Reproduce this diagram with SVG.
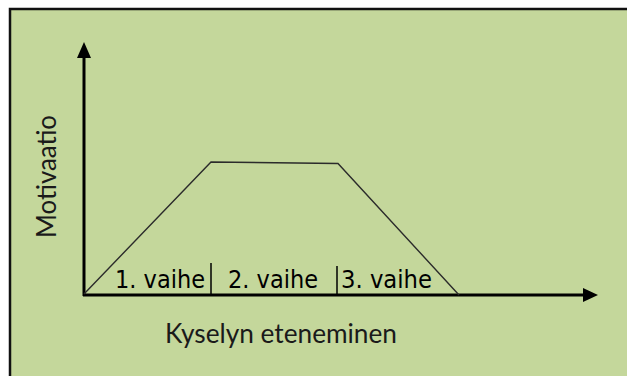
<svg xmlns="http://www.w3.org/2000/svg" width="627" height="376" viewBox="0 0 627 376">
<style>
.axis{stroke:#000;stroke-width:3;fill:none}
.curve{stroke:#2b2b2b;stroke-width:1.4;fill:none}
.div{stroke:#000;stroke-width:1.5}
.lbl{font-family:"DejaVu Sans",Verdana,sans-serif;font-size:24px;fill:#000}
.title{font-family:Lato,"Open Sans",sans-serif;font-size:27px;fill:#1a1a1a}
</style>
<rect x="0" y="0" width="627" height="376" fill="#fff"/>
<rect id="frame" x="10" y="9" width="640" height="400" fill="#c4d79b" stroke="#111" stroke-width="2.5"/>
<g id="connectors">
<line class="axis" x1="84" y1="296" x2="84" y2="56"/>
<polygon points="84,42 77,58 91,58" fill="#000"/>
<line class="axis" x1="83" y1="295" x2="585" y2="295"/>
<polygon points="598,295 583,288 583,302" fill="#000"/>
<polyline class="curve" points="84,294 211,162 338,163.5 459,295"/>
<line class="div" x1="211" y1="263" x2="211" y2="295"/>
<line class="div" x1="337" y1="266" x2="337" y2="295"/>
</g>
<g id="phase1"><text class="lbl" x="115" y="288" textLength="90" lengthAdjust="spacingAndGlyphs">1. vaihe</text></g>
<g id="phase2"><text class="lbl" x="228" y="288" textLength="90" lengthAdjust="spacingAndGlyphs">2. vaihe</text></g>
<g id="phase3"><text class="lbl" x="341" y="288" textLength="91" lengthAdjust="spacingAndGlyphs">3. vaihe</text></g>
<g id="xlabel"><text class="title" x="165" y="343" textLength="232" lengthAdjust="spacingAndGlyphs">Kyselyn eteneminen</text></g>
<g id="ylabel"><text class="title" transform="translate(56,238) rotate(-90)" x="0" y="0" textLength="123" lengthAdjust="spacingAndGlyphs">Motivaatio</text></g>
</svg>
